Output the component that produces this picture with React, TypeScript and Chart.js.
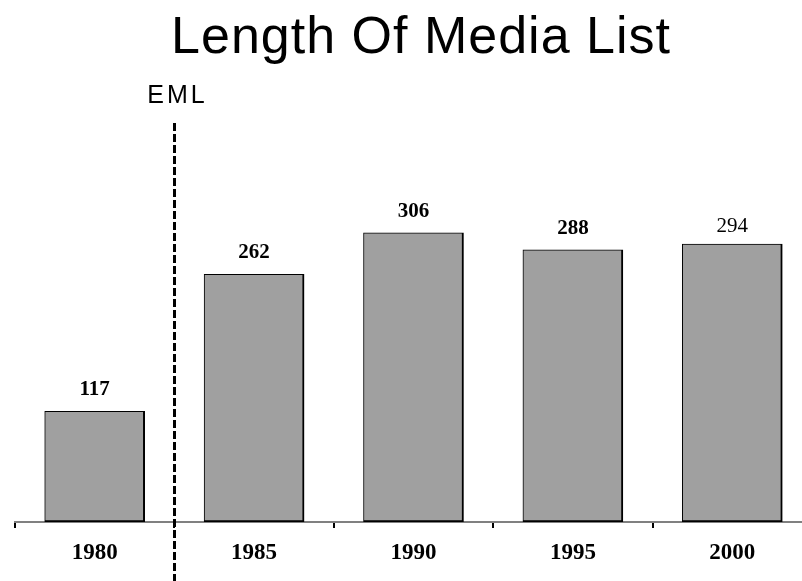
import React, { useEffect, useRef } from "react";
import { Chart, registerables } from "chart.js";

Chart.register(...registerables);

const years = ["1980", "1985", "1990", "1995", "2000"];
const mediaListLength = [117, 262, 306, 288, 294];
const labelWeights = ["bold", "bold", "bold", "bold", "normal"];
const chartTitle = "Length Of Media List";
const markerLabel = "EML";

const overlayPlugin = {
  id: "overlay",
  afterDatasetsDraw(chart: any) {
    const ctx = chart.ctx;
    const meta = chart.getDatasetMeta(0);
    ctx.save();
    ctx.fillStyle = "#000";
    ctx.textAlign = "center";
    ctx.textBaseline = "alphabetic";
    meta.data.forEach((bar: any, i: number) => {
      ctx.font = `${labelWeights[i]} 21px "Liberation Serif", "Times New Roman", serif`;
      ctx.fillText(String(mediaListLength[i]), bar.x, bar.y - (labelWeights[i] === "normal" ? 12 : 16));
    });
    ctx.restore();
  },
  afterDraw(chart: any) {
    const ctx = chart.ctx;
    const xs = chart.scales.x;
    const lineX = Math.round((xs.getPixelForValue(0) + xs.getPixelForValue(1)) / 2) + 0.5;
    ctx.save();
    ctx.fillStyle = "#000";
    ctx.textAlign = "center";
    ctx.textBaseline = "alphabetic";
    ctx.font = `52px "Liberation Sans", Arial, sans-serif`;
    try { (ctx as any).letterSpacing = "1px"; } catch (e) {}
    ctx.fillText(chartTitle, 421, 53);
    ctx.font = `25px "Liberation Sans", Arial, sans-serif`;
    try { (ctx as any).letterSpacing = "3px"; } catch (e) {}
    ctx.fillText(markerLabel, lineX + 3, 103);
    try { (ctx as any).letterSpacing = "0px"; } catch (e) {}
    ctx.strokeStyle = "#000";
    ctx.lineWidth = 3;
    ctx.setLineDash([8, 3]);
    ctx.beginPath();
    ctx.moveTo(lineX, 123);
    ctx.lineTo(lineX, chart.height);
    ctx.stroke();
    ctx.restore();
  },
};

export default function App() {
  const canvasRef = useRef<HTMLCanvasElement>(null);

  useEffect(() => {
    if (!canvasRef.current) return;
    const chart = new Chart(canvasRef.current, {
      type: "bar",
      data: {
        labels: years,
        datasets: [
          {
            data: mediaListLength,
            backgroundColor: "#a0a0a0",
            borderColor: "#000",
            borderWidth: { top: 1, left: 1, right: 2, bottom: 2 } as any,
            borderSkipped: false,
            barThickness: 100,
          },
        ],
      },
      options: {
        responsive: false,
        animation: false,
        layout: { padding: { left: 15, right: 0, top: 144, bottom: 0 } },
        plugins: {
          legend: { display: false },
          title: { display: false },
          tooltip: { enabled: false },
        },
        scales: {
          x: {
            offset: true,
            grid: {
              display: true,
              offset: true,
              drawOnChartArea: false,
              drawTicks: true,
              tickLength: 6,
              color: "#000",
              lineWidth: 2,
            },
            border: { display: true, color: "#808080", width: 2 },
            ticks: {
              color: "#000",
              padding: 11,
              font: { family: '"Liberation Serif", "Times New Roman", serif', size: 23, weight: "bold" },
            },
            afterFit(scale: any) {
              scale.height = 59;
            },
          },
          y: {
            display: false,
            min: 0,
            max: 400,
          },
        },
      },
      plugins: [overlayPlugin],
    });
    return () => chart.destroy();
  }, []);

  return (
    <div
      style={{
        position: "fixed",
        left: 0,
        top: 0,
        width: 802,
        height: 581,
        overflow: "hidden",
        background: "#fff",
      }}
    >
      <canvas ref={canvasRef} width={812} height={581} style={{ display: "block" }} />
    </div>
  );
}
